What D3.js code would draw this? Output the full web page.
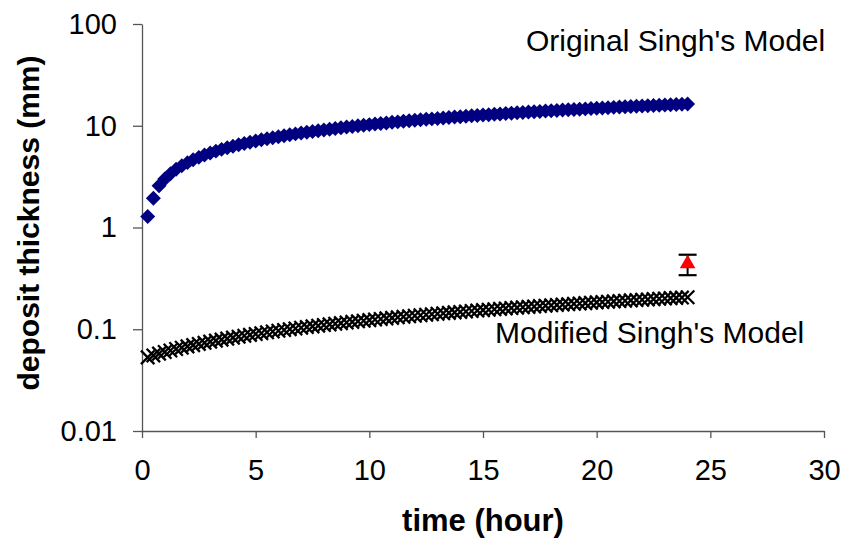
<!DOCTYPE html>
<html>
<head>
<meta charset="utf-8">
<script src="https://cdn.jsdelivr.net/npm/d3@7"></script>
<style>
	body { margin: 0; background: #fff; }
	svg text { font-family: "Liberation Sans", Arial, sans-serif; fill: #000; }
	.axis path, .axis line { stroke: #555; stroke-width: 1.3; }
</style>
</head>
<body>
<div id="chart"></div>
<script>
//time values (hour), shared by both model series
let hours = [0.25,0.5,0.75,1,1.25,1.5,1.75,2,2.25,2.5,2.75,3,3.25,3.5,3.75,4,4.25,4.5,4.75,5,
	5.25,5.5,5.75,6,6.25,6.5,6.75,7,7.25,7.5,7.75,8,8.25,8.5,8.75,9,9.25,9.5,9.75,10,
	10.25,10.5,10.75,11,11.25,11.5,11.75,12,12.25,12.5,12.75,13,13.25,13.5,13.75,14,14.25,14.5,14.75,15,
	15.25,15.5,15.75,16,16.25,16.5,16.75,17,17.25,17.5,17.75,18,18.25,18.5,18.75,19,19.25,19.5,19.75,20,
	20.25,20.5,20.75,21,21.25,21.5,21.75,22,22.25,22.5,22.75,23,23.25,23.5,23.75,24];

//original Singh's model (mm)
let originalModel = [1.28,1.94,2.57,3.0,3.38,3.73,4.04,4.34,4.63,4.89,5.15,5.39,5.63,5.86,6.08,6.29,6.5,6.7,6.89,7.08,
	7.27,7.45,7.63,7.81,7.98,8.15,8.32,8.48,8.64,8.8,8.95,9.1,9.26,9.4,9.55,9.7,9.84,9.98,10.12,10.26,
	10.4,10.53,10.66,10.8,10.92,11.05,11.18,11.31,11.43,11.56,11.68,11.8,11.92,12.04,12.17,12.28,12.4,12.51,12.62,12.74,
	12.85,12.97,13.07,13.19,13.3,13.41,13.51,13.62,13.73,13.83,13.94,14.04,14.15,14.25,14.35,14.45,14.56,14.65,14.75,14.86,
	14.95,15.05,15.16,15.25,15.34,15.44,15.54,15.64,15.73,15.82,15.92,16.0,16.1,16.19,16.29,16.37];

//modified Singh's model (mm)
let modifiedModel = [0.0529,0.0553,0.0576,0.0598,0.0618,0.0639,0.0659,0.0679,0.0698,0.0717,0.0736,0.0755,0.0773,0.0791,0.0809,0.0827,0.0845,0.0863,0.0881,0.0898,
	0.0915,0.0933,0.095,0.0967,0.0984,0.1001,0.1017,0.1034,0.1051,0.1067,0.1084,0.11,0.1116,0.1133,0.1149,0.1165,0.1182,0.1197,0.1213,0.123,
	0.1246,0.1262,0.1278,0.1294,0.131,0.1325,0.1341,0.1357,0.1372,0.1388,0.1403,0.1419,0.1434,0.145,0.1465,0.148,0.1495,0.1511,0.1526,0.1541,
	0.1556,0.1571,0.1586,0.1601,0.1616,0.1631,0.1646,0.166,0.1675,0.169,0.1705,0.1719,0.1734,0.1749,0.1763,0.1778,0.1792,0.1807,0.1821,0.1836,
	0.185,0.1864,0.1879,0.1893,0.1907,0.1922,0.1936,0.195,0.1964,0.1979,0.1993,0.2007,0.2021,0.2035,0.2049,0.2063];

//measured point with error bar
let measured = [{time: 24, value: 0.44, low: 0.34, high: 0.54}];

let xTicks = [0, 5, 10, 15, 20, 25, 30];
let yTicks = [0.01, 0.1, 1, 10, 100];

let width = 843;
let height = 548;

let svg = d3.select("#chart")
	.append("svg")
	.attr("width", width)
	.attr("height", height);

//scales
const xScale = d3.scaleLinear()
	.domain([0, 30])
	.range([142, 824]);

const yScale = d3.scaleLog()
	.domain([0.01, 100])
	.range([431, 24]);

//x axis
svg.append("g")
	.attr("class", "axis x_axis")
	.attr("transform", "translate(0,431)")
	.call(d3.axisBottom(xScale).tickValues(xTicks).tickSize(7).tickSizeOuter(0).tickPadding(21));

//y axis
svg.append("g")
	.attr("class", "axis y_axis")
	.attr("transform", "translate(142,0)")
	.call(d3.axisLeft(yScale).tickValues(yTicks).tickSize(9).tickSizeOuter(0).tickPadding(16)
		.tickFormat((d)=>{ return String(d); }));

svg.selectAll(".axis text")
	.style("font-size", "29px");

//axis titles
svg.append("text")
	.attr("x", 483)
	.attr("y", 531)
	.attr("text-anchor", "middle")
	.style("font-size", "31px")
	.style("font-weight", "bold")
	.text("time (hour)");

svg.append("text")
	.attr("transform", "translate(39,223) rotate(-90)")
	.attr("text-anchor", "middle")
	.style("font-size", "30px")
	.style("font-weight", "bold")
	.text("deposit thickness (mm)");

//original model: diamonds
svg.append("g")
	.selectAll("path")
	.data(hours)
	.enter()
	.append("path")
	.attr("d", d3.symbol(d3.symbolSquare, 112))
	.attr("transform", (d, i)=>{ return `translate(${xScale(d)},${yScale(originalModel[i])}) rotate(45)`; })
	.attr("fill", "#000080");

//modified model: x marks
svg.append("g")
	.selectAll("path")
	.data(hours)
	.enter()
	.append("path")
	.attr("d", d3.symbol(d3.symbolX, 120))
	.attr("transform", (d, i)=>{ return `translate(${xScale(d)},${yScale(modifiedModel[i])})`; })
	.attr("fill", "none")
	.attr("stroke", "#000")
	.attr("stroke-width", 2.3);

//measured point: error bar then triangle
let m = svg.append("g").selectAll("g")
	.data(measured)
	.enter()
	.append("g");

m.append("line")
	.attr("x1", (d)=>{ return xScale(d.time); })
	.attr("x2", (d)=>{ return xScale(d.time); })
	.attr("y1", (d)=>{ return yScale(d.low); })
	.attr("y2", (d)=>{ return yScale(d.high); })
	.attr("stroke", "#000")
	.attr("stroke-width", 2);

["low", "high"].forEach((k)=>{
	m.append("line")
		.attr("x1", (d)=>{ return xScale(d.time) - 9; })
		.attr("x2", (d)=>{ return xScale(d.time) + 9; })
		.attr("y1", (d)=>{ return yScale(d[k]); })
		.attr("y2", (d)=>{ return yScale(d[k]); })
		.attr("stroke", "#000")
		.attr("stroke-width", 2.2);
});

m.append("path")
	.attr("d", d3.symbol(d3.symbolTriangle, 105))
	.attr("transform", (d)=>{ return `translate(${xScale(d.time)},${yScale(d.value)})`; })
	.attr("fill", "#ff0000");

//series labels
svg.append("text")
	.attr("x", 526)
	.attr("y", 51)
	.style("font-size", "30px")
	.text("Original Singh's Model");

svg.append("text")
	.attr("x", 495)
	.attr("y", 343)
	.style("font-size", "30px")
	.text("Modified Singh's Model");
</script>
</body>
</html>
